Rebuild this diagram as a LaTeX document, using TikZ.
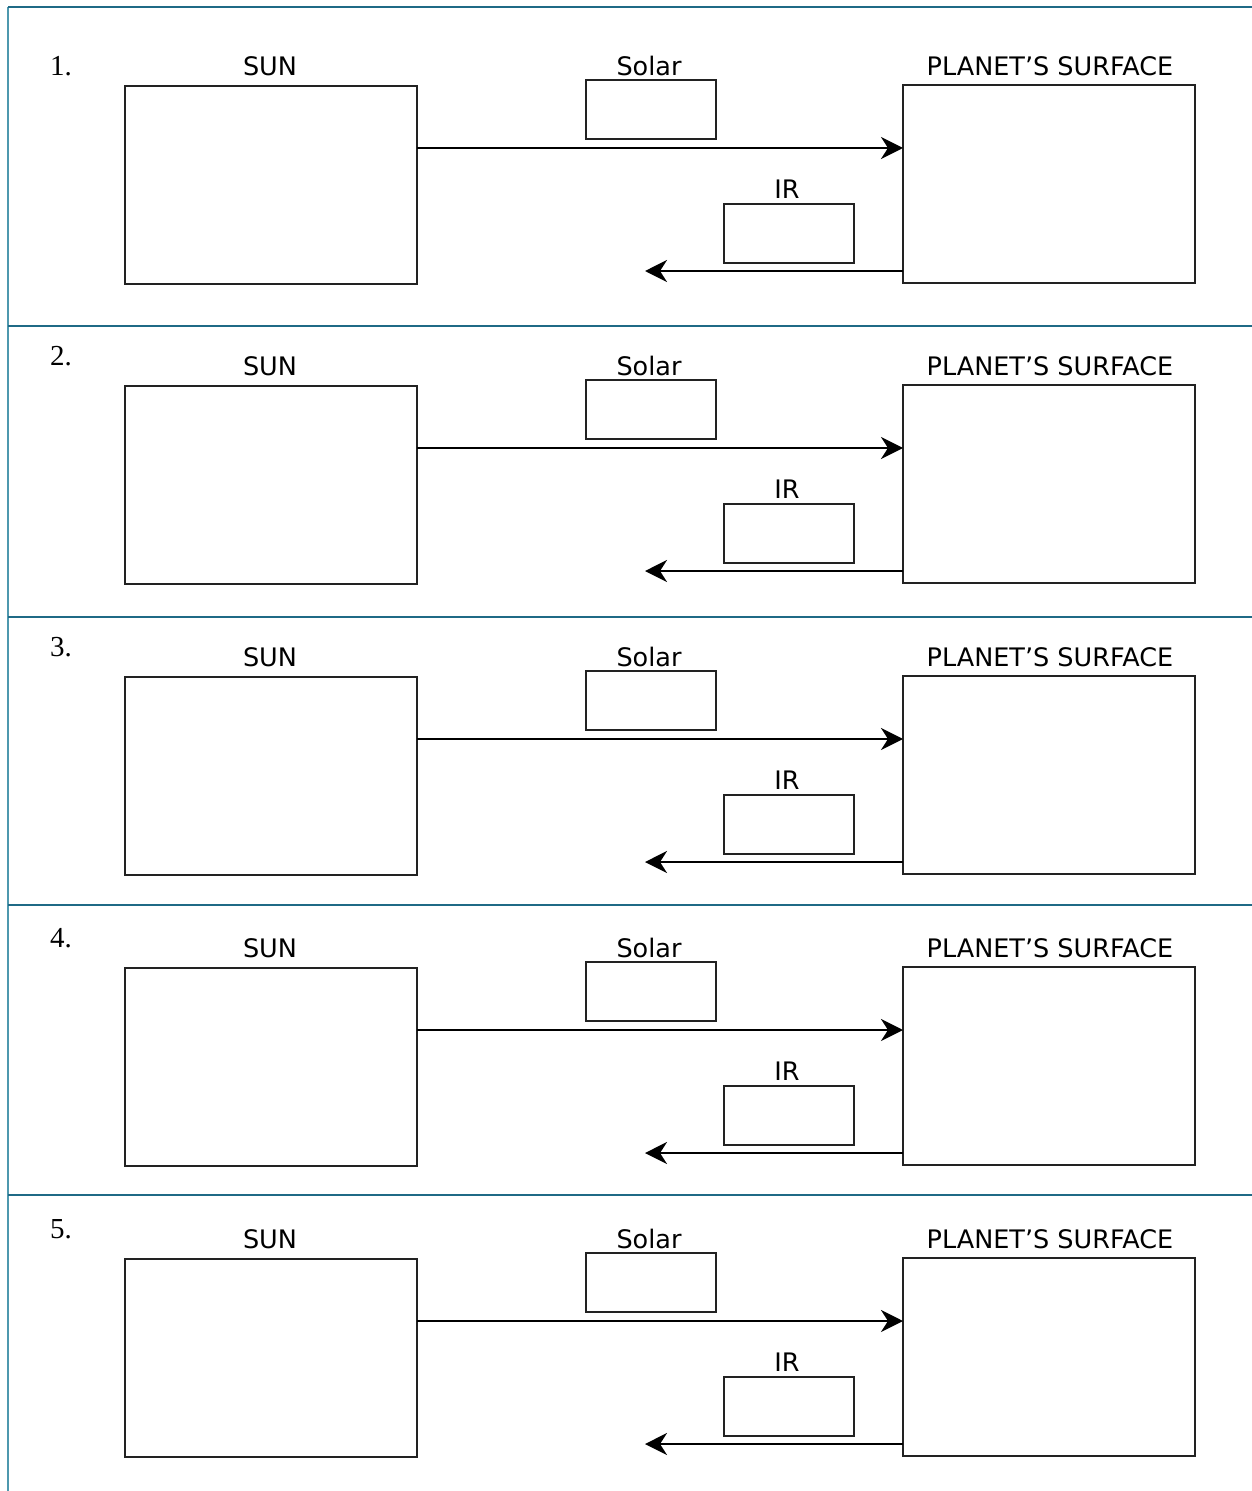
\documentclass[tikz,border=0pt]{standalone}
\usepackage{fontspec}
\newfontfamily\labelfont{DejaVu Sans}
\newfontfamily\numfont{Liberation Serif}
\usetikzlibrary{arrows.meta,calc}
\definecolor{rule}{HTML}{1F6A86}
\definecolor{ruleside}{HTML}{4E98AE}
\definecolor{ink}{HTML}{222222}
\begin{document}
\begin{tikzpicture}[x=1pt,y=-1pt,
  box/.style={draw=ink,line width=2.8pt,rectangle,inner sep=0pt,outer sep=0pt,anchor=north west},
  lbl/.style={font=\labelfont\fontsize{25.5}{30}\selectfont,anchor=base,inner sep=0pt},
  num/.style={font=\numfont\fontsize{29}{34}\selectfont,anchor=base west,inner sep=0pt},
  flow/.style={draw=black,line width=2.6pt,-{Stealth[length=22pt,width=22pt,inset=7pt]}}]
\useasboundingbox (0,0) rectangle (1252,1491);
\fill[white] (0,0) rectangle (1252,1491);
% table rules
\draw[ruleside,line width=1.6pt] (8,7) -- (8,1491);
\draw[rule,line width=1.6pt] (8,7) -- (1252,7);
\foreach \y in {326,617,905,1195}
  \draw[rule,line width=1.4pt] (8,\y) -- (1252,\y);
% one row per exercise: index/top of the large boxes/number baseline
\foreach \i/\t/\nb in {1/86/75, 2/386/365, 3/677/656, 4/968/947, 5/1259/1238}{
  \node[num] (n\i) at (50,\nb) {\i.};
  \node[box,minimum width=292pt,minimum height=198pt] (sun\i) at (125,\t) {};
  \node[lbl] (sunl\i) at (270,\t-11) {SUN};
  \node[box,minimum width=130pt,minimum height=59pt] (solar\i) at (586,\t-6) {};
  \node[lbl] (solarl\i) at (649,\t-11) {Solar};
  \node[box,minimum width=292pt,minimum height=198pt] (planet\i) at (903,\t-1) {};
  \node[lbl] (planetl\i) at (1050,\t-11) {PLANET’S SURFACE};
  \node[box,minimum width=130pt,minimum height=59pt] (ir\i) at (724,\t+118) {};
  \node[lbl] (irl\i) at (787,\t+112) {IR};
  % solar radiation in, infrared radiation out
  \coordinate (sa\i) at ($(sun\i.north east)!0.3131!(sun\i.south east)$);
  \draw[flow] (sa\i) -- (sa\i -| planet\i.west);
  \coordinate (ia\i) at ($(planet\i.north west)!0.9394!(planet\i.south west)$);
  \coordinate (iend\i) at (645,\t+185);
  \draw[flow] (ia\i) -- (ia\i -| iend\i);
}
\end{tikzpicture}
\end{document}
